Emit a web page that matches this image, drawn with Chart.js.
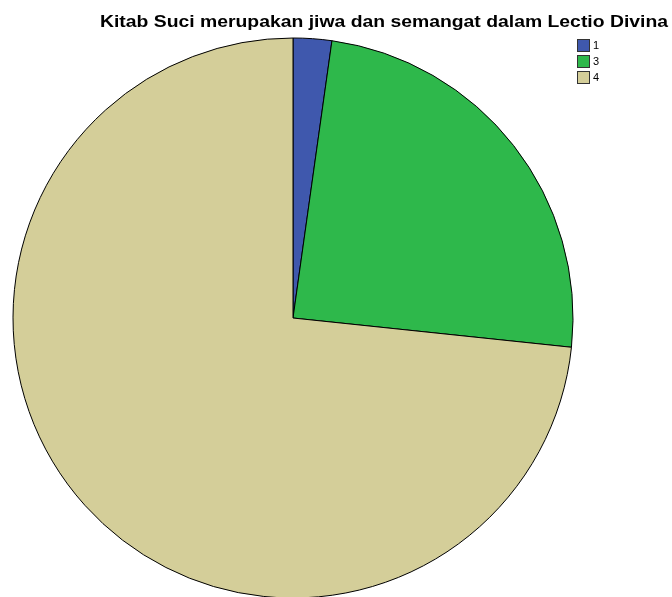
<!DOCTYPE html>
<html>
<head>
<meta charset="utf-8">
<script src="https://cdn.jsdelivr.net/npm/chart.js@4.4.1/dist/chart.umd.min.js"></script>
<style>
  html, body { margin: 0; padding: 0; background: #fff; }
  #wrap { width: 672px; height: 597px; position: relative; }
</style>
</head>
<body>
<div id="wrap"><canvas id="c" width="672" height="597"></canvas></div>
<script>
const chartTitle = 'Kitab Suci merupakan jiwa dan semangat dalam Lectio Divina';
const categories = ['1', '3', '4'];
const counts = [1, 11, 33];
const sliceColors = ['#3F58AD', '#2EB84B', '#D4CE99'];

// Title and legend drawn directly on the canvas
const decorations = {
  id: 'decorations',
  afterDraw(chart) {
    const ctx = chart.ctx;
    ctx.save();
    ctx.fillStyle = '#000';
    ctx.font = 'bold 17px "Liberation Sans", Arial, sans-serif';
    ctx.textBaseline = 'alphabetic';
    ctx.textAlign = 'left';
    const w = ctx.measureText(chartTitle).width;
    const target = 568;
    ctx.translate(100, 27);
    ctx.scale(target / w, 1);
    ctx.fillText(chartTitle, 0, 0);
    ctx.restore();

    ctx.save();
    ctx.font = '11px "Liberation Sans", Arial, sans-serif';
    ctx.textBaseline = 'middle';
    categories.forEach((cat, i) => {
      const y = 40 + i * 16;
      ctx.fillStyle = sliceColors[i];
      ctx.fillRect(578, y, 11, 11);
      ctx.strokeStyle = '#333';
      ctx.lineWidth = 1;
      ctx.strokeRect(577.5, y - 0.5, 12, 12);
      ctx.fillStyle = '#000';
      ctx.fillText(cat, 593, y + 6);
    });
    ctx.restore();
  }
};

new Chart(document.getElementById('c'), {
  type: 'pie',
  data: {
    labels: categories,
    datasets: [{
      data: counts,
      backgroundColor: sliceColors,
      borderColor: '#000',
      borderWidth: 1,
      radius: 280
    }]
  },
  options: {
    responsive: false,
    animation: false,
    layout: { padding: { left: 13, right: 99, top: 40, bottom: 1 } },
    plugins: {
      legend: { display: false },
      title: { display: false },
      tooltip: { enabled: false }
    }
  },
  plugins: [decorations]
});
</script>
</body>
</html>
